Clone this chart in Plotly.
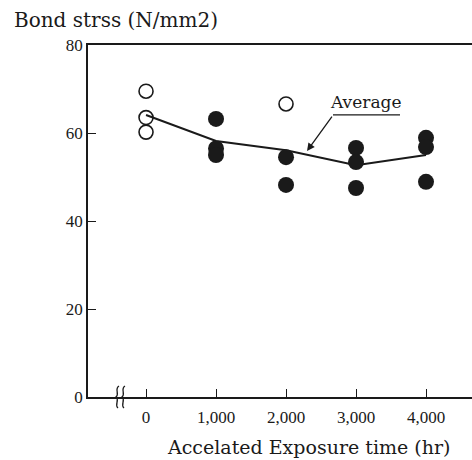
import plotly.graph_objects as go

# Data
open_x = [0, 0, 0, 2000]
open_y = [69.5, 63.5, 60.2, 66.6]
filled_x = [1000, 1000, 1000, 2000, 2000, 3000, 3000, 3000, 4000, 4000, 4000]
filled_y = [63.2, 56.5, 55.0, 54.5, 48.2, 56.6, 53.4, 47.5, 58.9, 56.8, 48.9]
avg_x = [0, 1000, 2000, 3000, 4000]
avg_y = [64.1, 58.2, 56.1, 52.7, 55.0]
tick_vals = [0, 1000, 2000, 3000, 4000]
tick_text = ["0", "1,000", "2,000", "3,000", "4,000"]
y_ticks = [0, 20, 40, 60, 80]

INK = "#1a1a1a"
FONT = "Liberation Serif"
TFONT = "DejaVu Serif"

fig = go.Figure()
fig.add_trace(go.Scatter(x=avg_x, y=avg_y, mode="lines",
                         line=dict(color=INK, width=2), showlegend=False))
fig.add_trace(go.Scatter(x=open_x, y=open_y, mode="markers",
                         marker=dict(symbol="circle-open", size=14, color=INK,
                                     line=dict(width=1.6, color=INK)),
                         showlegend=False))
fig.add_trace(go.Scatter(x=filled_x, y=filled_y, mode="markers",
                         marker=dict(symbol="circle", size=16, color=INK),
                         showlegend=False))

# Axis break marks (paper coords: plot area is 384 x 352 px)
PW, PH = 384.0, 352.0
for px in [29, 35]:
    def X(dx):
        return (px + dx) / PW
    def Y(dy):
        return -dy / PH
    path = (f"M {X(2)},{Y(-11)} C {X(-3)},{Y(-8)} {X(3)},{Y(-3)} {X(-1)},{Y(0)} "
            f"C {X(3)},{Y(3)} {X(-3)},{Y(8)} {X(1)},{Y(11)}")
    fig.add_shape(type="path", xref="paper", yref="paper", path=path,
                  line=dict(color=INK, width=1.3))

# Average label
fig.add_annotation(x=3140, y=67.0, xref="x", yref="y", text="Average",
                   showarrow=False, font=dict(family=TFONT, size=17, color=INK))
fig.add_shape(type="line", xref="x", yref="y", x0=2671, y0=64.1, x1=3629, y1=64.1,
              line=dict(color=INK, width=1.3))
fig.add_annotation(x=2300, y=55.9, xref="x", yref="y", ax=26, ay=-36, text="",
                   showarrow=True, arrowhead=2, arrowsize=1.2, arrowwidth=1.3,
                   arrowcolor=INK)

# Titles
fig.add_annotation(xref="paper", yref="paper", x=-0.198, y=1.071, xanchor="left",
                   yanchor="middle", text="Bond strss (N/mm2)", showarrow=False,
                   font=dict(family=TFONT, size=20, color=INK))
fig.add_annotation(xref="paper", yref="paper", x=0.573, y=-0.142, xanchor="center",
                   yanchor="middle", text="Accelated Exposure time (hr)", showarrow=False,
                   font=dict(family=TFONT, size=19, color=INK))

fig.update_layout(
    width=472, height=460,
    margin=dict(l=88, r=0, t=45, b=63),
    paper_bgcolor="white", plot_bgcolor="white",
    font=dict(family=FONT, size=17, color=INK),
    xaxis=dict(range=[-829, 4657], tickvals=tick_vals, ticktext=tick_text,
               ticks="inside", ticklen=8, tickcolor=INK, tickwidth=1.2,
               showline=True, linecolor=INK, linewidth=1.5, mirror=True,
               showgrid=False, zeroline=False, ticklabelstandoff=4),
    yaxis=dict(range=[0, 80], tickvals=y_ticks, ticks="inside", ticklen=8,
               tickcolor=INK, tickwidth=1.2, showline=True, linecolor=INK,
               linewidth=1.5, showgrid=False, zeroline=False),
)

fig.write_html("out.html", config={"displayModeBar": False},
               post_script="document.body.style.margin='0';"
                           "document.documentElement.style.overflow='hidden';"
                           "document.body.style.overflow='hidden';")
